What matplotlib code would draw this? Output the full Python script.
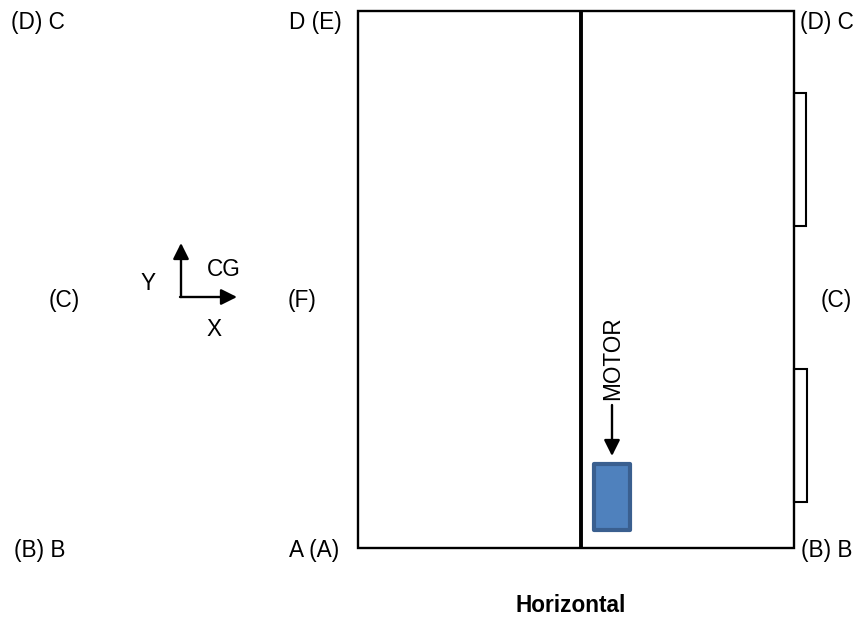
import matplotlib.pyplot as plt
from matplotlib.patches import Rectangle

plt.rcParams['font.family'] = ['Liberation Sans', 'DejaVu Sans']

# labels, text and where they sit (pixels of the 867x619 picture)
corner_labels = ['(D) C', 'D (E)', '(D) C', '(C)', '(F)', '(C)', '(B) B', 'A (A)', '(B) B']
corner_x = [38, 315, 827, 64, 302, 836, 40, 314, 827]
corner_y = [22, 22, 22, 300, 300, 300, 550, 550, 550]
axis_labels = ['Y', 'CG', 'X']
axis_label_x = [148, 224, 214]
axis_label_y = [283, 269, 329]
title = 'Horizontal'

fig = plt.figure(dpi=100, figsize=[8.67, 6.19])
ax1 = fig.add_axes([0, 0, 1, 1])
ax1.set_xlim(0, 867)
ax1.set_ylim(619, 0)
ax1.axis('off')

# main outline and divider
ax1.add_patch(Rectangle((358, 11), 436, 537, fill=False, edgecolor='k', linewidth=1.7))
ax1.plot([581, 581], [11, 548], color='k', linewidth=2.8, solid_capstyle='butt')

# small tabs on right side
ax1.add_patch(Rectangle((794, 93), 12, 133, fill=False, edgecolor='k', linewidth=1.5))
ax1.add_patch(Rectangle((794, 369), 13, 133, fill=False, edgecolor='k', linewidth=1.5))

# motor box
ax1.add_patch(Rectangle((594, 464), 36, 66, facecolor='#4f81bd', edgecolor='#3a5f8f',
                        linewidth=3.0, joinstyle='round'))

# arrows
arrow = dict(arrowstyle='-|>,head_length=0.6,head_width=0.3', color='k', linewidth=1.7,
             mutation_scale=16, shrinkA=0, shrinkB=0)
ax1.annotate('', xy=(181, 243), xytext=(181, 297), arrowprops=arrow)
ax1.annotate('', xy=(237, 297), xytext=(180, 297), arrowprops=arrow)
ax1.annotate('', xy=(612, 456), xytext=(612, 405), arrowprops=arrow)

# text
for lab, x, y in zip(corner_labels, corner_x, corner_y):
    ax1.text(x, y, lab, fontsize=16.3, ha='center', va='center')
for lab, x, y in zip(axis_labels, axis_label_x, axis_label_y):
    ax1.text(x, y, lab, fontsize=16.3, ha='center', va='center')
ax1.text(613, 358, 'MOTOR', fontsize=16.3, rotation=90, ha='center', va='center')
ax1.text(571, 605, title, fontsize=16.3, fontweight='bold', ha='center', va='center')

plt.savefig('out.png', dpi=100)
